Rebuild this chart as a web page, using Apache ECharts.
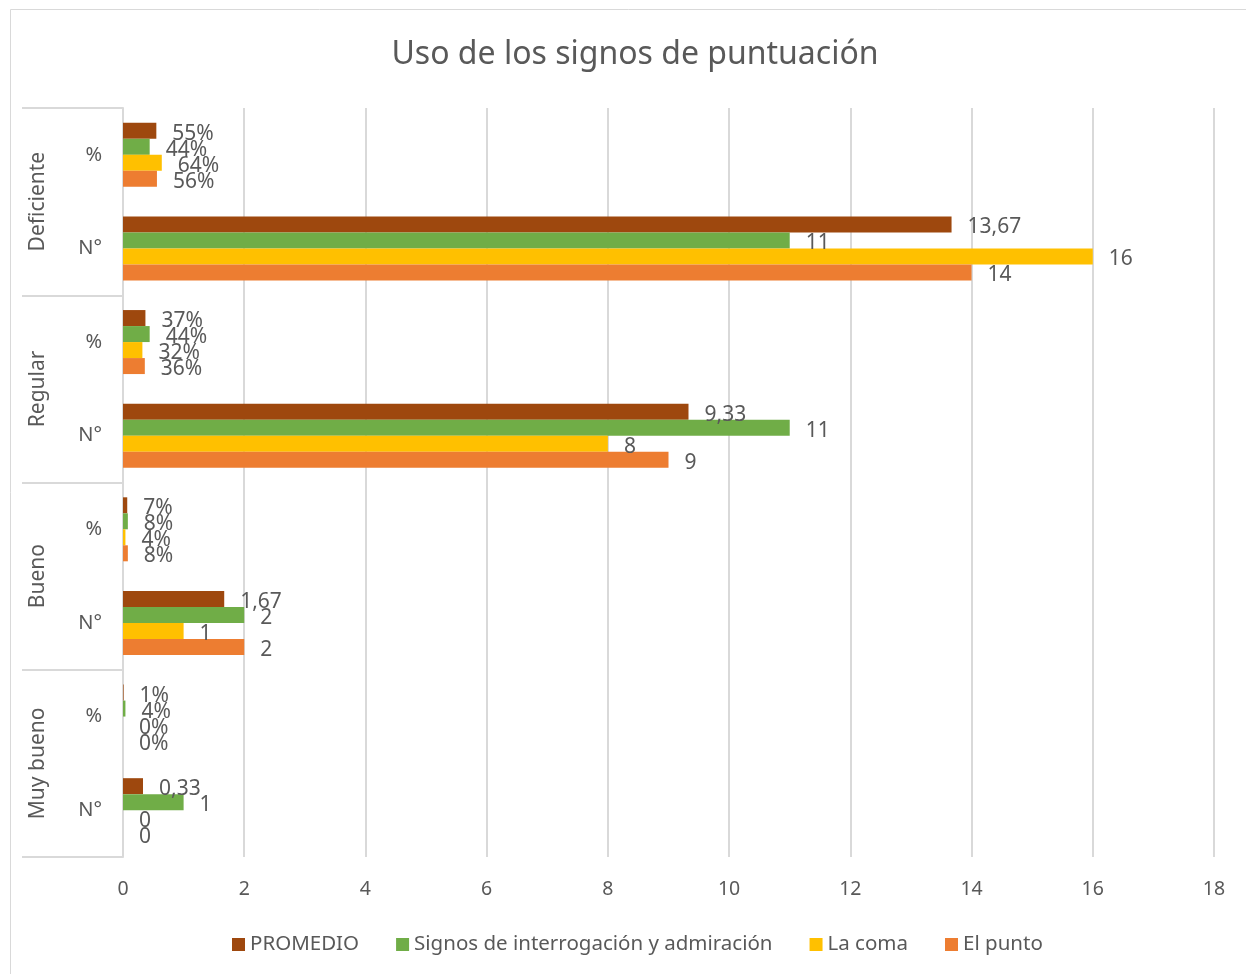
<!DOCTYPE html>
<html>
<head>
<meta charset="utf-8">
<script src="https://cdn.jsdelivr.net/npm/echarts@6/dist/echarts.min.js"></script>
<style>
  html, body { margin: 0; padding: 0; background: #fff; }
  #chart { width: 1246px; height: 974px; }
</style>
</head>
<body>
<div id="chart"></div>
<script>
// categories, bottom to top (ECharts category axis starts at the bottom)
const rows = ['N°', '%', 'N°', '%', 'N°', '%', 'N°', '%'];
const groups = ['Muy bueno', 'Bueno', 'Regular', 'Deficiente'];

// values per series, same order as rows (% rows stored as fractions)
const promedio = [0.33, 0.01, 1.67, 0.07, 9.33, 0.37, 13.67, 0.55];
const signos   = [1,    0.04, 2,    0.08, 11,   0.44, 11,    0.44];
const coma     = [0,    0,    1,    0.04, 8,    0.32, 16,    0.64];
const punto    = [0,    0,    2,    0.08, 9,    0.36, 14,    0.56];

const textColor = '#595959';
const lineColor = '#d9d9d9';
const font = 'Noto Sans';

function fmtLabel(p) {
  if (p.dataIndex % 2 === 1) return Math.round(p.value * 100) + '%';
  return String(Math.round(p.value * 100) / 100).replace('.', ',');
}

function barSeries(name, data, color) {
  return {
    name: name,
    type: 'bar',
    data: data,
    barWidth: 16,
    barGap: '0%',
    itemStyle: { color: color },
    label: {
      show: true,
      position: 'right',
      distance: 16,
      offset: [0, 3],
      color: textColor,
      fontFamily: font,
      fontSize: 21,
      formatter: fmtLabel
    }
  };
}

const chart = echarts.init(document.getElementById('chart'));

chart.setOption({
  animation: false,
  title: {
    text: 'Uso de los signos de puntuación',
    left: 630,
    top: 34,
    textAlign: 'center',
    textStyle: { color: textColor, fontFamily: font, fontSize: 32, fontWeight: 'normal' }
  },
  graphic: [{
    type: 'rect',
    shape: { x: 10.5, y: 9.5, width: 1240, height: 970 },
    style: { fill: 'none', stroke: lineColor, lineWidth: 1 },
    silent: true
  }],
  legend: {
    data: ['PROMEDIO', 'Signos de interrogación y admiración', 'La coma', 'El punto'],
    left: 227,
    top: 929,
    itemWidth: 13,
    itemHeight: 13,
    itemGap: 37,
    icon: 'rect',
    textStyle: { color: textColor, fontFamily: font, fontSize: 20.5 }
  },
  grid: { left: 123, right: 32, top: 108, bottom: 117, containLabel: false },
  xAxis: {
    type: 'value',
    min: 0,
    max: 18,
    interval: 2,
    axisLine: { show: false },
    axisTick: { show: false },
    splitLine: { lineStyle: { color: lineColor, width: 2 } },
    axisLabel: { color: textColor, fontFamily: font, fontSize: 19.5, margin: 22 }
  },
  yAxis: [
    {
      type: 'category',
      position: 'left',
      data: rows,
      axisLine: { show: true, lineStyle: { color: lineColor, width: 2 } },
      axisTick: { show: false },
      axisLabel: { color: textColor, fontFamily: font, fontSize: 20, margin: 21 }
    },
    {
      type: 'category',
      position: 'left',
      data: groups,
      axisLine: { show: false },
      axisTick: { show: true, length: 101, lineStyle: { color: lineColor, width: 2 } },
      axisLabel: { color: textColor, fontFamily: font, fontSize: 21, rotate: 90, margin: 74 },
      splitLine: { show: false }
    }
  ],
  series: [
    barSeries('PROMEDIO', promedio, '#9e480e'),
    barSeries('Signos de interrogación y admiración', signos, '#70ad47'),
    barSeries('La coma', coma, '#ffc000'),
    barSeries('El punto', punto, '#ed7d31')
  ]
});
</script>
</body>
</html>
